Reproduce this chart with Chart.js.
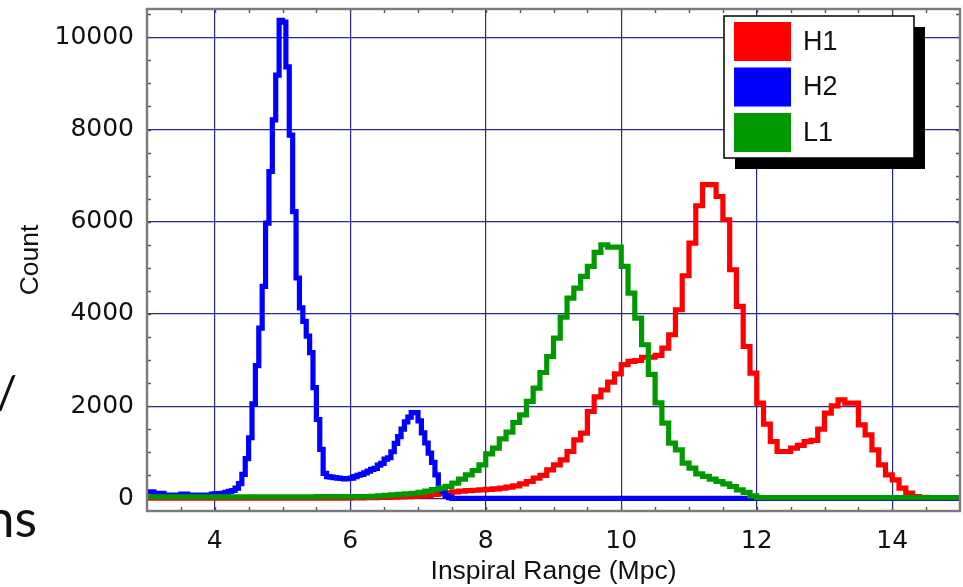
<!DOCTYPE html>
<html><head><meta charset="utf-8">
<script src="https://cdn.jsdelivr.net/npm/chart.js@4.4.1/dist/chart.umd.min.js"></script>
<style>
html,body{margin:0;padding:0;background:#fff;overflow:hidden}
#wrap{position:relative;width:963px;height:587px;overflow:hidden}
canvas{display:block}
.frag{position:absolute;font-family:Lato,'Open Sans',sans-serif;color:#111;white-space:nowrap;line-height:1}
</style></head><body>
<div id="wrap">
<canvas id="c" width="963" height="587"></canvas>
<div class="frag" style="right:946px;top:369px;font-size:46px">/</div>
<div class="frag" style="right:926px;top:491px;font-size:52px">ns</div>
</div>
<script>
// ---- data ----
const binStart = 3.0;
const h1BinWidth = 0.1;   // H1 bins
const h2BinWidth = 0.05;  // H2 bins
const l1BinWidth = 0.1;   // L1 bins
const seriesLabels = ['H1', 'H2', 'L1'];
const seriesColors = ['#ff0000', '#0000ff', '#009900'];

const h1Counts = [
  5,5,5,5,5,5,5,5,5,5,
  5,5,5,5,5,5,5,5,5,5,
  5,5,5,5,5,5,5,5,5,5,
  10,10,15,15,20,20,25,30,35,40,
  50,65,85,100,120,140,155,165,175,185,
  195,205,220,243,272,315,365,438,496,618,
  727,835,1016,1269,1414,1884,2200,2350,2520,2700,
  2900,2970,2990,3060,3060,3100,3260,3548,4091,4828,
  5537,6347,6803,6803,6548,6043,4958,4163,3294,2717,
  2066,1610,1233,1016,1016,1089,1150,1230,1255,1500,
  1848,2007,2137,2066,2066,1595,1378,1052,727,510,
  401,221,112,40,20,8,5,5,5,5
];

const h2Counts = [
  140,140,110,110,110,70,70,70,70,70,
  90,90,70,70,70,70,70,70,70,90,
  100,100,110,130,150,170,220,320,520,860,
  1314,2050,2880,3690,4600,5970,7090,8210,9180,10370,
  10330,9360,7880,6220,4780,4130,3840,3520,3160,2400,
  1710,1060,540,470,460,450,440,430,420,430,
  440,470,500,520,550,590,630,650,720,760,
  850,880,1010,1190,1340,1500,1660,1760,1860,1860,
  1680,1420,1200,980,780,510,200,150,55,15,
  0,0,0,0,0,0,0,0,0,0,
  0,0,0,0,0,0,0,0,0,0,
  0,0,0,0,0,0,0,0,0,0,
  0,0,0,0,0,0,0,0,0,0,
  0,0,0,0,0,0,0,0,0,0,
  0,0,0,0,0,0,0,0,0,0,
  0,0,0,0,0,0,0,0,0,0,
  0,0,0,0,0,0,0,0,0,0,
  0,0,0,0,0,0,0,0,0,0,
  0,0,0,0,0,0,0,0,0,0,
  0,0,0,0,0,0,0,0,0,0,
  0,0,0,0,0,0,0,0,0,0,
  0,0,0,0,0,0,0,0,0,0,
  0,0,0,0,0,0,0,0,0,0,
  0,0,0,0,0,0,0,0,0,0
];

const l1Counts = [
  30,30,30,30,30,30,30,30,30,30,
  30,30,30,30,30,30,30,30,30,30,
  30,30,30,30,30,35,35,35,35,35,
  35,35,35,45,55,65,75,85,95,110,
  130,155,190,220,260,330,416,510,604,727,
  966,1089,1291,1437,1645,1812,2101,2391,2730,3077,
  3476,3932,4344,4561,4813,5030,5334,5501,5451,5451,
  5030,4453,3910,3331,2690,2070,1632,1198,1052,764,
  655,532,474,416,365,315,257,184,127,54,
  15,15,15,15,15,15,15,15,15,15,
  15,15,15,15,15,15,15,15,15,15,
  15,15,15,15,15,15,15,15,15,15
];

const xTickValues = [4, 6, 8, 10, 12, 14];
const yTickValues = [0, 2000, 4000, 6000, 8000, 10000];
const xMinorStep = 0.5;
const yMinorStep = 500;
const xRange = [3, 15];
const yRange = [-275, 10615];
const xTitle = 'Inspiral Range (Mpc)';
const yTitle = 'Count';

// ---- build ----
function histogramPoints(counts, width) {
  const pts = counts.map((c, i) => ({ x: +(binStart + i * width).toFixed(3), y: c }));
  pts.push({ x: +(binStart + counts.length * width).toFixed(3), y: counts[counts.length - 1] });
  return pts;
}
const allCounts = [h1Counts, h2Counts, l1Counts];
const allWidths = [h1BinWidth, h2BinWidth, l1BinWidth];
const drawOrder = [2, 1, 0]; // L1 on top

const datasets = seriesLabels.map((lab, i) => ({
  label: lab,
  data: histogramPoints(allCounts[i], allWidths[i]),
  borderColor: seriesColors[i],
  backgroundColor: seriesColors[i],
  borderWidth: 5.2,
  stepped: 'before',
  pointRadius: 0,
  fill: false,
  tension: 0,
  borderJoinStyle: 'miter',
  borderCapStyle: 'butt',
  order: drawOrder[i]
}));

const TICK_FONT = "'DejaVu Sans', sans-serif";
const TEXT_FONT = "'Liberation Sans', Arial, sans-serif";

const frameAndTicks = {
  id: 'frameAndTicks',
  afterDatasetsDraw(chart) {
    const { ctx, chartArea: a, scales: { x, y } } = chart;
    ctx.save();
    ctx.strokeStyle = '#555';
    ctx.lineWidth = 1.4;
    ctx.beginPath();
    for (let v = x.min + xMinorStep; v < x.max - 1e-9; v += xMinorStep) {
      const px = Math.round(x.getPixelForValue(v)) + 0.5;
      ctx.moveTo(px, a.bottom); ctx.lineTo(px, a.bottom - 4);
      ctx.moveTo(px, a.top); ctx.lineTo(px, a.top + 4);
    }
    for (let v = 0; v < y.max; v += yMinorStep) {
      const py = Math.round(y.getPixelForValue(v)) + 0.5;
      ctx.moveTo(a.left, py); ctx.lineTo(a.left + 4, py);
      ctx.moveTo(a.right, py); ctx.lineTo(a.right - 4, py);
    }
    ctx.stroke();
    ctx.strokeStyle = '#7a7a7a';
    ctx.lineWidth = 2.4;
    ctx.strokeRect(a.left, a.top, a.right - a.left, a.bottom - a.top);
    ctx.restore();
  }
};

const boxLegend = {
  id: 'boxLegend',
  afterDraw(chart) {
    const { ctx, chartArea: a } = chart;
    const w = 190, h = 142, sh = 11;
    const left = a.right - 236, top = a.top + 7;
    ctx.save();
    ctx.fillStyle = '#000';
    ctx.fillRect(left + sh, top + sh, w, h);
    ctx.fillStyle = '#fff';
    ctx.fillRect(left, top, w, h);
    ctx.strokeStyle = '#000';
    ctx.lineWidth = 1.5;
    ctx.strokeRect(left, top, w, h);
    ctx.font = '27px ' + TEXT_FONT;
    ctx.textBaseline = 'middle';
    ctx.textAlign = 'left';
    chart.data.datasets.forEach((ds, i) => {
      const rowTop = top + 6 + i * 45.5;
      ctx.fillStyle = ds.borderColor;
      ctx.fillRect(left + 10, rowTop, 57, 39);
      ctx.fillStyle = '#111';
      ctx.fillText(ds.label, left + 79, rowTop + 20.5);
    });
    ctx.restore();
  }
};

new Chart(document.getElementById('c'), {
  type: 'line',
  data: { datasets },
  options: {
    responsive: false,
    animation: false,
    devicePixelRatio: 1,
    layout: { padding: { left: 0, right: 3, top: 9, bottom: 0 } },
    plugins: { legend: { display: false }, tooltip: { enabled: false } },
    scales: {
      x: {
        type: 'linear',
        min: xRange[0], max: xRange[1],
        afterBuildTicks: s => { s.ticks = xTickValues.map(v => ({ value: v })); },
        afterFit: s => { s.height = 76; s.paddingLeft = 0; s.paddingRight = 0; },
        grid: { color: 'rgba(0,0,128,0.85)', lineWidth: 1.2, drawTicks: false },
        border: { display: false },
        ticks: { padding: 15, color: '#111', font: { family: TICK_FONT, size: 25 }, maxRotation: 0, callback: v => String(v) },
        title: { display: true, text: xTitle, color: '#111', font: { family: TEXT_FONT, size: 26.5, lineHeight: 1 }, padding: { top: 0, bottom: 1.8 } }
      },
      y: {
        type: 'linear',
        min: yRange[0], max: yRange[1],
        afterBuildTicks: s => { s.ticks = yTickValues.map(v => ({ value: v })); },
        afterFit: s => { s.width = 147; s.paddingTop = 0; s.paddingBottom = 0; },
        grid: { color: 'rgba(0,0,128,0.85)', lineWidth: 1.2, drawTicks: false },
        border: { display: false },
        ticks: { padding: 13, color: '#111', font: { family: TICK_FONT, size: 25 }, callback: v => String(v) },
        title: { display: true, text: yTitle, color: '#111', font: { family: TEXT_FONT, size: 26.5, lineHeight: 1 }, padding: { top: 17.5, bottom: 0 } }
      }
    }
  },
  plugins: [frameAndTicks, boxLegend]
});
</script>
</body></html>
